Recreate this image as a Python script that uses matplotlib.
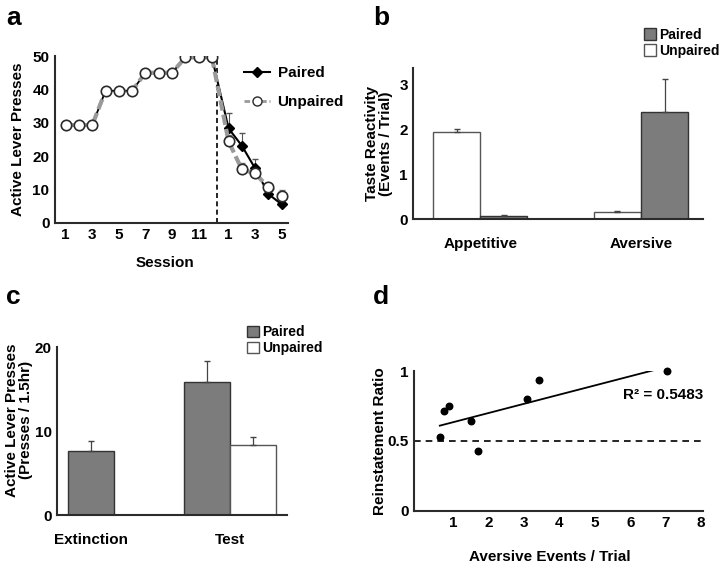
import numpy as np
import matplotlib.pyplot as plt

plt.rcParams['font.family'] = ['Liberation Sans', 'DejaVu Sans']
plt.rcParams['font.weight'] = 'bold'
plt.rcParams['axes.labelweight'] = 'bold'

# panel a data
train_sessions = np.arange(1, 13)
train_values = [29.3, 29.3, 29.3, 39.6, 39.6, 39.6, 45, 45, 45, 49.6, 49.6, 49.6]
ext_sessions = np.arange(1, 6)
ext_paired = [28.3, 23.1, 16.3, 8.6, 5.5]
ext_paired_err = [4.7, 3.7, 2.7, 1.0, 0.6]
ext_unpaired = [24.4, 16.0, 14.8, 10.6, 8.1]
ext_unpaired_err = [2.0, 1.8, 1.0, 1.0, 1.7]
train_ticks = [1, 3, 5, 7, 9, 11]
ext_ticks = [1, 3, 5]

# panel b data
taste_cats = ['Appetitive', 'Aversive']
taste_paired = [0.07, 2.40]
taste_paired_err = [0.02, 0.73]
taste_unpaired = [1.94, 0.16]
taste_unpaired_err = [0.07, 0.03]

# panel c data
lever_cats = ['Extinction', 'Test']
lever_paired = [7.6, 15.9]
lever_paired_err = [1.2, 2.4]
lever_unpaired = [8.4]
lever_unpaired_err = [0.9]

# panel d data
aversive_events = [0.63, 0.74, 0.88, 1.50, 1.72, 3.08, 3.44, 7.03]
reinstatement = [0.526, 0.718, 0.75, 0.646, 0.428, 0.80, 0.935, 1.0]

GRAY = '#7c7c7c'
DARK = '#2b2b2b'
FS = 11
LFS = 10


def style(ax):
    for s in ['top', 'right']:
        ax.spines[s].set_visible(False)
    for s in ['left', 'bottom']:
        ax.spines[s].set_linewidth(1.5)
        ax.spines[s].set_color(DARK)
    ax.tick_params(length=0, labelsize=FS, pad=4)
    for lab in ax.get_xticklabels() + ax.get_yticklabels():
        lab.set_fontweight('bold')


fig = plt.figure(figsize=(7.2, 5.64), dpi=100)

# ---------------- a ----------------
ax = fig.add_axes([0.0764, 0.605, 0.324, 0.2956])
ext_x = ext_sessions + 12.25
ax.axvline(12.35, color='black', ls=(0, (3, 2)), lw=1.2)
ax.plot(train_sessions, train_values, color='black', lw=1.3, marker='D', ms=5, mfc='black', zorder=3)
ax.plot(train_sessions, train_values, color='#9a9a9a', lw=3, ls=(0, (2.5, 1)), zorder=4)
ax.plot(train_sessions, train_values, ls='none', marker='o', ms=7.5, mfc='white', mec=DARK, mew=1.2, zorder=5)
ax.errorbar(ext_x, ext_paired, yerr=[np.zeros(5), ext_paired_err], fmt='none', ecolor='#555555', elinewidth=0.8, capsize=2.5, zorder=2)
ax.errorbar(ext_x, ext_unpaired, yerr=[np.zeros(5), ext_unpaired_err], fmt='none', ecolor='#777777', elinewidth=0.8, capsize=2.5, zorder=2)
ax.plot(np.r_[12, ext_x], np.r_[train_values[-1], ext_paired], color='black', lw=1.5, marker='D', ms=5.5, mfc='black', zorder=3)
ax.plot(np.r_[12, ext_x], np.r_[train_values[-1], ext_unpaired], color='#9a9a9a', lw=3, ls=(0, (2.5, 1)), zorder=4)
ax.plot(ext_x, ext_unpaired, ls='none', marker='o', ms=7.5, mfc='white', mec=DARK, mew=1.2, zorder=5)
# legend handles
hp, = ax.plot([], [], color='black', lw=1.5, marker='D', ms=5.5, mfc='black')
hu, = ax.plot([], [], color='#9a9a9a', lw=2, ls=(0, (2, 1)), marker='o', ms=6.5, mfc='white', mec=DARK)
ax.legend([hp, hu], ['Paired', 'Unpaired'], loc='upper left', bbox_to_anchor=(0.81, 0.94), frameon=False,
          prop={'size': FS, 'weight': 'bold'}, handlelength=1.7, labelspacing=1.0, handletextpad=0.5,
          borderpad=0, borderaxespad=0)
ax.set_xlim(0.2, 17.74)
ax.set_ylim(0, 50)
ax.set_xticks(list(train_ticks) + [t + 12.25 for t in ext_ticks])
ax.set_xticklabels([str(t) for t in train_ticks] + [str(t) for t in ext_ticks])
ax.set_yticks([0, 10, 20, 30, 40, 50])
ax.set_ylabel('Active Lever Presses', fontsize=FS)
ax.set_xlabel('Session', fontsize=FS)
ax.yaxis.set_label_coords(-0.13, 0.5)
ax.xaxis.set_label_coords(0.47, -0.2)
style(ax)

# ---------------- b ----------------
ax = fig.add_axes([0.574, 0.6117, 0.4024, 0.267])
xb = np.arange(len(taste_cats))
w = 0.294
ax.bar(xb - w / 2, taste_unpaired, w, color='white', edgecolor='#555555', lw=1, label='Unpaired', zorder=2)
ax.bar(xb + w / 2, taste_paired, w, color=GRAY, edgecolor='#333333', lw=1, label='Paired', zorder=2)
ax.errorbar(xb - w / 2, taste_unpaired, yerr=[np.zeros(2), taste_unpaired_err], fmt='none', ecolor='#444444', elinewidth=0.9, capsize=2.5)
ax.errorbar(xb + w / 2, taste_paired, yerr=[np.zeros(2), taste_paired_err], fmt='none', ecolor='#444444', elinewidth=0.9, capsize=2.5)
h, l = ax.get_legend_handles_labels()
ax.legend(h[::-1], l[::-1], loc='upper left', bbox_to_anchor=(0.796, 1.27), frameon=False,
          prop={'size': LFS, 'weight': 'bold'}, handlelength=0.9, handleheight=0.9, handletextpad=0.2,
          labelspacing=0.15, borderpad=0, borderaxespad=0)
ax.set_xlim(-0.416, 1.385)
ax.set_ylim(0, 3.37)
ax.set_xticks(xb)
ax.set_xticklabels(taste_cats)
ax.set_yticks([0, 1, 2, 3])
ax.set_ylabel('Taste Reactivity\n(Events / Trial)', fontsize=FS, linespacing=1.0)
ax.yaxis.set_label_coords(-0.07, 0.5)
style(ax)
ax.tick_params(axis='x', pad=13)

# ---------------- c ----------------
ax = fig.add_axes([0.0796, 0.0863, 0.3194, 0.2984])
xc = np.arange(len(lever_cats))
w = 0.332
px = [0, 1 - w / 2]
ax.bar(px, lever_paired, w, color=GRAY, edgecolor='#333333', lw=1, label='Paired', zorder=2)
ax.bar([1 + w / 2], lever_unpaired, w, color='white', edgecolor='#555555', lw=1, label='Unpaired', zorder=2)
ax.errorbar(px, lever_paired, yerr=[np.zeros(2), lever_paired_err], fmt='none', ecolor='#444444', elinewidth=0.9, capsize=2.5)
ax.errorbar([1 + w / 2], lever_unpaired, yerr=[[0], lever_unpaired_err], fmt='none', ecolor='#444444', elinewidth=0.9, capsize=2.5)
ax.legend(loc='upper left', bbox_to_anchor=(0.823, 1.13), frameon=False,
          prop={'size': LFS, 'weight': 'bold'}, handlelength=0.9, handleheight=0.9, handletextpad=0.2,
          labelspacing=0.15, borderpad=0, borderaxespad=0)
ax.set_xlim(-0.245, 1.413)
ax.set_ylim(0, 20)
ax.set_xticks(xc)
ax.set_xticklabels(lever_cats)
ax.set_yticks([0, 10, 20])
ax.set_ylabel('Active Lever Presses\n(Presses / 1.5hr)', fontsize=FS, linespacing=1.0)
ax.yaxis.set_label_coords(-0.106, 0.566)
style(ax)
ax.tick_params(axis='x', pad=13)

# ---------------- d ----------------
ax = fig.add_axes([0.5754, 0.0945, 0.401, 0.2472])
slope, icpt = np.polyfit(aversive_events, reinstatement, 1)
xf = np.array([min(aversive_events), max(aversive_events)])
ax.plot(xf, slope * xf + icpt, color='black', lw=1.3)
ax.axhline(0.5, color='black', ls=(0, (4, 3)), lw=1.2)
ax.scatter(aversive_events, reinstatement, s=22, color='black', zorder=3, clip_on=False)
ax.text(8.05, 0.83, 'R\u00b2 = 0.5483', ha='right', va='center', fontsize=FS, fontweight='bold')
ax.set_xlim(-0.09, 8.05)
ax.set_ylim(0, 1)
ax.set_xticks(range(1, 9))
ax.set_yticks([0, 0.5, 1])
ax.set_yticklabels(['0', '0.5', '1'])
ax.set_ylabel('Reinstatement Ratio', fontsize=FS)
ax.set_xlabel('Aversive Events / Trial', fontsize=FS)
ax.yaxis.set_label_coords(-0.095, 0.5)
ax.xaxis.set_label_coords(0.47, -0.28)
style(ax)

# panel letters
for x, y, s in [(0.008, 0.99, 'a'), (0.518, 0.99, 'b'), (0.008, 0.495, 'c'), (0.518, 0.495, 'd')]:
    fig.text(x, y, s, fontsize=19, fontweight='bold', va='top', ha='left')

fig.savefig('out.png', dpi=100)
